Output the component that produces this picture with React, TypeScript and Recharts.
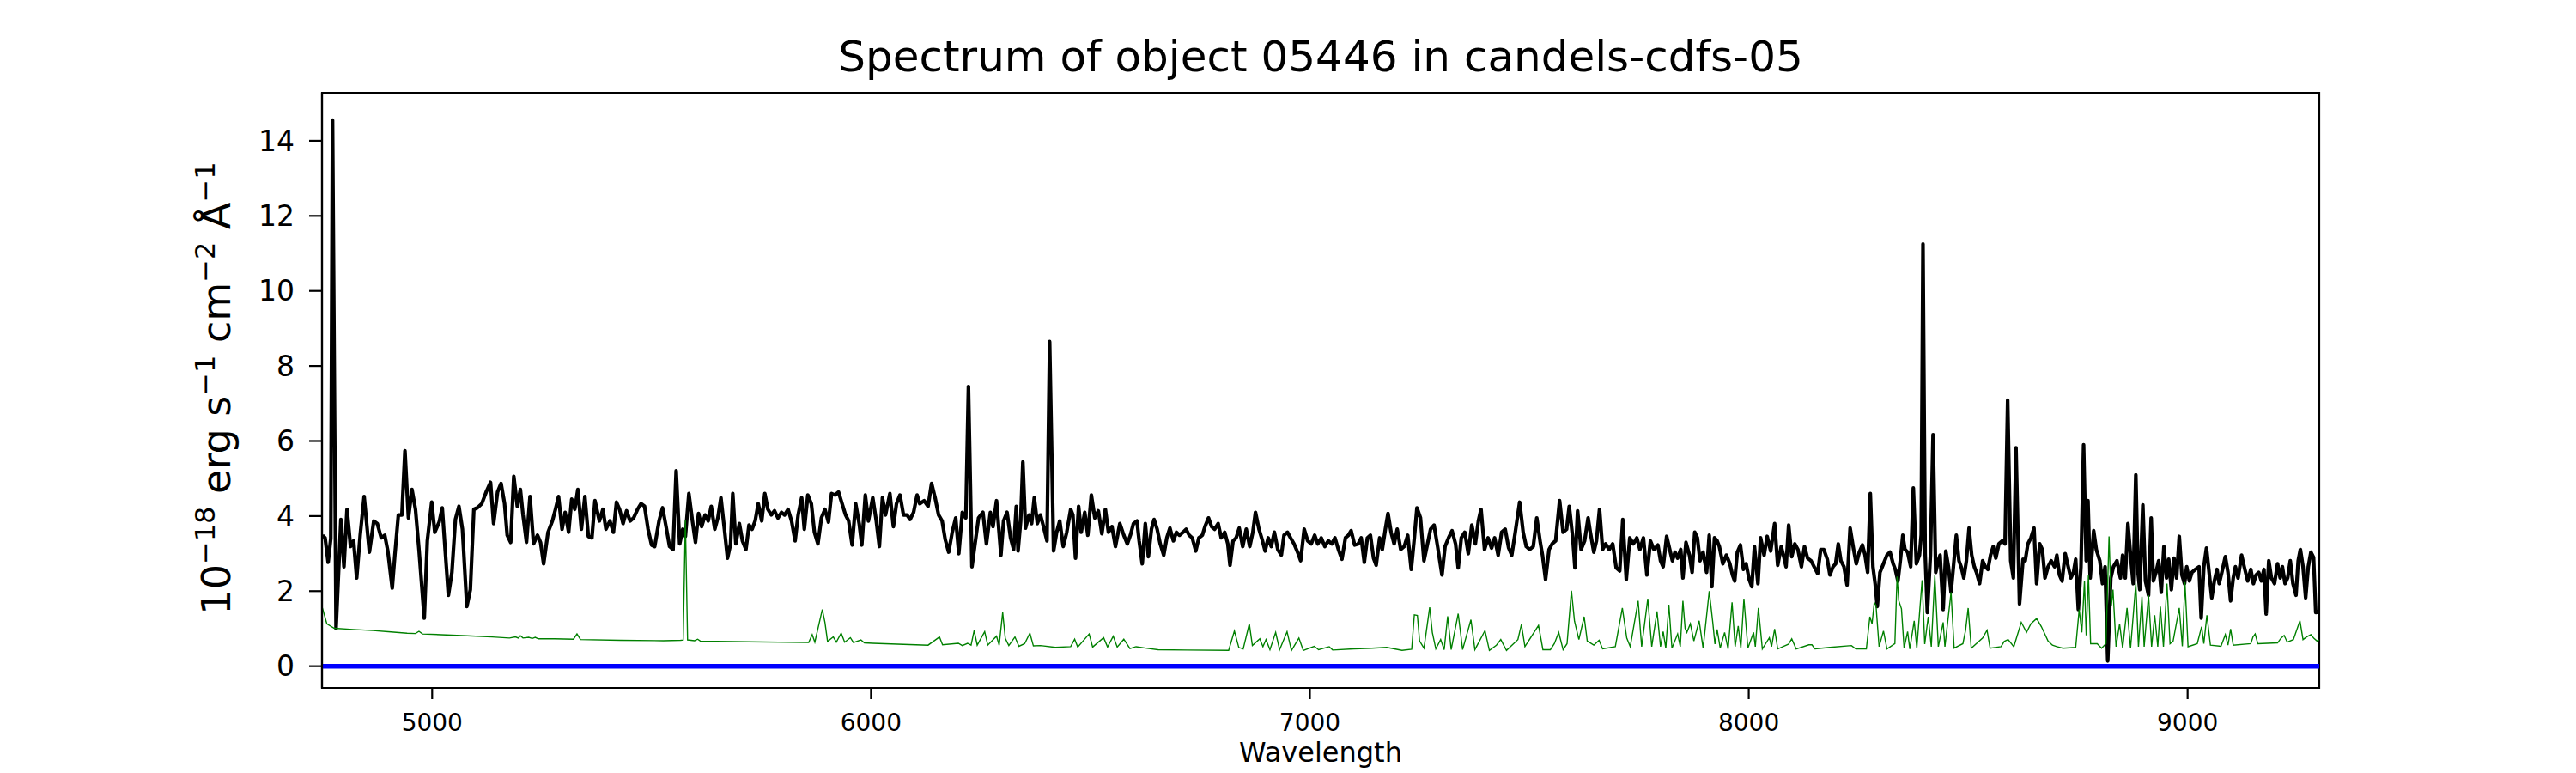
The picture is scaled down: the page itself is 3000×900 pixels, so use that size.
import { LineChart, Line, XAxis, YAxis, ReferenceLine, ReferenceArea } from 'recharts';

const FONT = '"DejaVu Sans", "Liberation Sans", sans-serif';

const title = 'Spectrum of object 05446 in candels-cdfs-05';
const xTicks = [5000, 6000, 7000, 8000, 9000];
const yTicks = [0, 2, 4, 6, 8, 10, 12, 14];
const xDomain: [number, number] = [4749, 9300];
const yDomain: [number, number] = [-0.58, 15.28];
const zeroLevel = 0;

// object spectrum, [wavelength, flux]
const flux: [number, number][] = [
  [4750, 3.49], [4756, 3.42], [4763, 2.77], [4769, 3.4], [4773, 14.55], [4781, 1.0], [4792, 3.91], [4799, 2.65],
  [4806, 4.18], [4814, 3.19], [4821, 3.34], [4828, 2.35], [4836, 3.49], [4845, 4.52], [4857, 3.04], [4867, 3.87],
  [4875, 3.8], [4884, 3.42], [4892, 3.49], [4899, 3.07], [4909, 2.08], [4915, 2.96], [4923, 4.03], [4931, 4.03],
  [4938, 5.74], [4946, 3.95], [4954, 4.71], [4962, 4.18], [4970, 3.11], [4982, 1.28], [4989, 3.34], [4999, 4.37],
  [5006, 3.57], [5016, 3.84], [5023, 4.22], [5030, 3.04], [5037, 1.89], [5045, 2.5], [5053, 3.91], [5061, 4.26],
  [5069, 3.65], [5079, 1.59], [5087, 2.04], [5095, 4.18], [5103, 4.22], [5113, 4.33], [5123, 4.64], [5133, 4.9],
  [5140, 3.8], [5149, 4.64], [5157, 4.87], [5165, 4.33], [5171, 3.49], [5179, 3.3], [5186, 5.06], [5194, 4.26],
  [5201, 4.71], [5207, 4.03], [5215, 3.3], [5223, 4.52], [5231, 3.26], [5240, 3.49], [5247, 3.3], [5254, 2.73],
  [5264, 3.57], [5274, 3.87], [5281, 4.18], [5288, 4.52], [5296, 3.65], [5303, 4.1], [5311, 3.57], [5318, 4.45],
  [5325, 4.18], [5332, 4.71], [5340, 3.65], [5348, 4.52], [5356, 3.46], [5364, 3.42], [5371, 4.41], [5381, 3.87],
  [5389, 4.18], [5396, 3.65], [5405, 3.87], [5413, 3.57], [5420, 4.37], [5427, 4.18], [5435, 3.8], [5443, 4.14],
  [5451, 3.87], [5459, 3.95], [5468, 4.18], [5476, 4.33], [5484, 4.26], [5492, 3.65], [5500, 3.23], [5507, 3.19],
  [5517, 3.87], [5525, 4.22], [5533, 3.72], [5541, 3.19], [5549, 3.11], [5556, 5.21], [5564, 3.26], [5571, 3.65],
  [5577, 3.46], [5585, 4.6], [5593, 3.87], [5600, 3.3], [5607, 4.07], [5614, 3.72], [5622, 4.03], [5629, 3.87],
  [5636, 4.26], [5644, 3.65], [5651, 3.95], [5658, 4.49], [5666, 3.65], [5673, 2.88], [5680, 3.26], [5685, 4.6],
  [5692, 3.26], [5700, 3.8], [5707, 3.34], [5715, 3.11], [5722, 3.76], [5729, 3.65], [5736, 3.87], [5743, 4.33],
  [5751, 3.87], [5758, 4.6], [5765, 4.18], [5773, 4.03], [5780, 4.14], [5788, 3.95], [5796, 4.1], [5803, 4.03],
  [5811, 4.18], [5819, 3.87], [5827, 3.34], [5834, 4.03], [5842, 4.49], [5848, 3.65], [5856, 4.56], [5864, 4.33],
  [5871, 3.57], [5879, 3.26], [5887, 3.95], [5895, 4.18], [5903, 3.84], [5910, 4.6], [5918, 4.56], [5926, 4.64],
  [5934, 4.33], [5942, 4.03], [5949, 3.87], [5957, 3.23], [5965, 4.33], [5973, 3.8], [5979, 3.23], [5987, 4.56],
  [5994, 3.87], [6004, 4.49], [6012, 3.87], [6019, 3.19], [6026, 4.49], [6033, 4.03], [6043, 4.6], [6051, 3.72],
  [6058, 4.33], [6066, 4.56], [6074, 4.03], [6082, 4.03], [6089, 3.91], [6097, 4.1], [6105, 4.56], [6111, 4.33],
  [6121, 4.41], [6130, 4.26], [6138, 4.87], [6146, 4.49], [6154, 4.03], [6162, 3.87], [6169, 3.38], [6177, 3.04],
  [6185, 3.57], [6193, 3.95], [6200, 3.0], [6208, 4.1], [6216, 3.95], [6222, 7.45], [6230, 2.65], [6237, 3.26],
  [6245, 3.95], [6255, 4.1], [6263, 3.26], [6272, 4.1], [6278, 3.72], [6286, 4.41], [6296, 2.96], [6302, 3.87],
  [6310, 4.1], [6318, 3.42], [6325, 3.11], [6331, 4.26], [6335, 3.07], [6341, 3.87], [6346, 5.44], [6352, 3.68],
  [6360, 4.03], [6366, 3.8], [6372, 4.49], [6379, 3.8], [6386, 4.03], [6393, 3.72], [6401, 3.34], [6407, 8.65],
  [6416, 3.07], [6423, 3.57], [6430, 3.87], [6438, 3.19], [6446, 3.57], [6455, 4.18], [6460, 4.03], [6466, 2.88],
  [6473, 4.26], [6479, 3.57], [6487, 4.1], [6494, 3.49], [6502, 4.56], [6510, 3.95], [6518, 4.14], [6526, 3.53],
  [6534, 4.18], [6541, 3.57], [6549, 3.72], [6557, 3.19], [6567, 3.8], [6576, 3.49], [6584, 3.26], [6591, 3.49],
  [6598, 3.8], [6606, 3.87], [6611, 3.34], [6618, 2.73], [6625, 3.8], [6632, 2.92], [6639, 3.65], [6645, 3.91],
  [6652, 3.65], [6659, 3.26], [6667, 2.96], [6674, 3.42], [6681, 3.68], [6689, 3.34], [6696, 3.57], [6703, 3.49],
  [6711, 3.57], [6718, 3.65], [6725, 3.49], [6732, 3.42], [6740, 3.07], [6747, 3.42], [6755, 3.49], [6761, 3.72],
  [6769, 3.95], [6776, 3.72], [6783, 3.65], [6791, 3.8], [6798, 3.42], [6806, 3.57], [6813, 3.26], [6818, 2.69],
  [6825, 3.34], [6832, 3.42], [6839, 3.68], [6847, 3.19], [6855, 3.65], [6863, 3.19], [6870, 3.57], [6876, 4.1],
  [6884, 3.65], [6892, 3.34], [6898, 3.07], [6905, 3.42], [6912, 3.19], [6919, 3.57], [6927, 3.11], [6935, 2.96],
  [6941, 3.49], [6949, 3.57], [6956, 3.42], [6964, 3.26], [6972, 3.04], [6979, 2.81], [6987, 3.65], [6995, 3.34],
  [7003, 3.26], [7011, 3.49], [7018, 3.26], [7026, 3.42], [7034, 3.19], [7042, 3.34], [7050, 3.26], [7057, 3.42],
  [7065, 3.11], [7073, 2.85], [7081, 3.42], [7088, 3.49], [7094, 3.61], [7102, 3.23], [7110, 3.26], [7117, 3.42],
  [7124, 2.77], [7131, 3.42], [7138, 3.49], [7145, 2.88], [7151, 2.69], [7159, 3.42], [7165, 3.11], [7172, 3.65],
  [7178, 4.07], [7185, 3.57], [7192, 3.26], [7199, 3.65], [7207, 3.11], [7215, 3.19], [7223, 3.49], [7231, 2.58],
  [7238, 3.42], [7244, 4.22], [7252, 3.95], [7260, 2.81], [7268, 3.26], [7275, 3.65], [7283, 3.76], [7291, 3.19],
  [7301, 2.43], [7308, 3.19], [7316, 3.42], [7324, 3.61], [7332, 3.26], [7338, 2.62], [7345, 3.42], [7353, 3.57],
  [7361, 3.0], [7369, 3.76], [7377, 3.26], [7384, 3.87], [7390, 4.18], [7398, 3.11], [7406, 3.42], [7414, 3.15],
  [7421, 3.42], [7429, 2.96], [7437, 3.57], [7445, 3.65], [7453, 3.15], [7460, 2.96], [7468, 3.57], [7478, 4.37],
  [7486, 3.57], [7493, 3.19], [7501, 3.11], [7509, 3.19], [7517, 3.95], [7525, 3.3], [7530, 2.96], [7537, 2.31],
  [7545, 3.11], [7552, 3.26], [7560, 3.34], [7569, 4.41], [7577, 3.57], [7585, 3.65], [7591, 4.26], [7599, 3.42],
  [7604, 2.62], [7610, 4.14], [7618, 3.11], [7626, 3.34], [7634, 3.95], [7639, 3.57], [7647, 3.04], [7653, 3.34],
  [7660, 4.18], [7667, 3.11], [7674, 3.26], [7682, 3.11], [7690, 3.26], [7698, 2.62], [7706, 2.54], [7713, 3.91],
  [7721, 2.31], [7729, 3.42], [7737, 3.26], [7745, 3.42], [7752, 3.11], [7760, 3.42], [7768, 2.43], [7776, 3.34],
  [7784, 3.11], [7793, 3.23], [7799, 2.81], [7805, 2.65], [7813, 3.46], [7820, 3.11], [7826, 2.81], [7832, 3.04],
  [7838, 2.88], [7845, 3.11], [7850, 2.35], [7857, 3.3], [7865, 2.96], [7871, 2.5], [7877, 3.57], [7883, 3.42],
  [7889, 2.81], [7896, 3.04], [7904, 2.5], [7910, 3.49], [7916, 2.12], [7922, 3.42], [7928, 3.34], [7933, 3.19],
  [7941, 2.73], [7949, 2.96], [7957, 2.73], [7963, 2.43], [7968, 2.27], [7974, 3.04], [7981, 3.23], [7988, 2.58],
  [7994, 2.73], [8001, 2.31], [8007, 2.12], [8013, 3.19], [8021, 2.2], [8027, 3.42], [8035, 2.96], [8042, 3.46],
  [8050, 3.07], [8059, 3.8], [8066, 2.69], [8074, 3.19], [8079, 2.96], [8085, 2.65], [8091, 3.76], [8098, 2.92],
  [8105, 3.26], [8112, 3.11], [8120, 2.65], [8127, 3.19], [8134, 2.88], [8142, 2.81], [8149, 2.65], [8157, 2.47],
  [8164, 3.11], [8171, 3.11], [8179, 2.85], [8185, 2.43], [8192, 2.65], [8198, 2.73], [8204, 3.26], [8210, 2.81],
  [8217, 2.65], [8224, 2.16], [8231, 3.68], [8239, 3.11], [8245, 2.73], [8252, 3.04], [8259, 3.23], [8265, 2.96],
  [8271, 2.5], [8277, 4.6], [8283, 2.65], [8288, 2.2], [8293, 1.59], [8299, 2.5], [8307, 2.73], [8315, 2.96],
  [8322, 3.04], [8329, 2.73], [8334, 2.58], [8340, 2.27], [8346, 2.88], [8351, 3.49], [8356, 3.11], [8362, 3.04],
  [8369, 2.65], [8375, 4.75], [8382, 2.73], [8389, 2.96], [8393, 3.5], [8397, 11.25], [8402, 3.0], [8407, 1.43],
  [8414, 2.96], [8420, 6.17], [8426, 2.5], [8432, 2.81], [8436, 2.96], [8443, 1.51], [8449, 3.07], [8455, 2.65],
  [8461, 1.97], [8467, 2.73], [8473, 3.49], [8479, 2.81], [8484, 2.65], [8490, 2.35], [8496, 2.81], [8502, 3.68],
  [8508, 2.96], [8514, 2.65], [8519, 2.5], [8526, 2.2], [8533, 2.81], [8539, 2.65], [8545, 2.58], [8551, 2.96],
  [8557, 3.19], [8563, 2.88], [8570, 3.26], [8578, 3.34], [8584, 3.26], [8590, 7.09], [8597, 2.81], [8603, 2.35],
  [8609, 5.82], [8617, 1.66], [8625, 2.85], [8630, 2.81], [8636, 3.26], [8643, 3.42], [8650, 3.68], [8656, 2.2],
  [8663, 3.26], [8669, 3.11], [8675, 2.35], [8682, 2.65], [8689, 2.81], [8697, 2.65], [8702, 2.96], [8708, 2.43],
  [8714, 2.27], [8721, 3.0], [8728, 2.65], [8734, 2.35], [8740, 2.5], [8745, 2.85], [8751, 1.51], [8757, 2.65],
  [8763, 5.9], [8769, 2.81], [8773, 4.41], [8778, 2.35], [8786, 3.61], [8792, 3.11], [8800, 2.81], [8806, 2.2],
  [8812, 2.65], [8818, 0.14], [8825, 2.35], [8831, 2.65], [8839, 2.81], [8847, 2.35], [8852, 2.96], [8858, 2.35],
  [8864, 3.8], [8870, 2.96], [8876, 2.2], [8882, 5.1], [8887, 2.5], [8891, 2.04], [8898, 4.3], [8904, 2.27],
  [8911, 1.89], [8917, 3.95], [8922, 2.27], [8928, 2.5], [8934, 2.81], [8940, 1.97], [8946, 3.19], [8952, 2.35],
  [8957, 2.85], [8963, 2.04], [8969, 2.88], [8975, 2.35], [8981, 3.46], [8987, 2.43], [8993, 2.2], [8998, 2.65],
  [9004, 2.27], [9010, 2.5], [9018, 2.58], [9026, 2.65], [9031, 1.28], [9037, 2.65], [9043, 3.15], [9049, 2.5],
  [9055, 1.82], [9061, 2.27], [9067, 2.58], [9072, 2.2], [9078, 2.5], [9086, 2.92], [9092, 2.5], [9098, 1.74],
  [9104, 2.35], [9109, 2.65], [9115, 2.35], [9123, 2.96], [9129, 2.65], [9137, 2.27], [9144, 2.58], [9150, 2.2],
  [9156, 2.43], [9162, 2.5], [9168, 2.27], [9174, 2.58], [9179, 1.39], [9185, 2.81], [9191, 2.35], [9198, 2.2],
  [9205, 2.73], [9211, 2.35], [9216, 2.65], [9222, 2.2], [9228, 2.35], [9234, 2.81], [9240, 2.2], [9247, 1.89],
  [9252, 2.81], [9257, 3.11], [9263, 2.65], [9269, 1.82], [9275, 2.65], [9281, 3.04], [9287, 2.9], [9292, 1.43],
  [9300, 1.45],
];

// sky / noise spectrum, [wavelength, flux]
const sky: [number, number][] = [
  [4750, 1.55], [4760, 1.13], [4777, 1.01], [4820, 0.98], [4865, 0.95], [4900, 0.92], [4943, 0.88], [4962, 0.87],
  [4970, 0.93], [4978, 0.86], [5021, 0.84], [5080, 0.81], [5137, 0.78], [5176, 0.75], [5190, 0.78], [5196, 0.75],
  [5201, 0.81], [5207, 0.75], [5220, 0.77], [5228, 0.74], [5235, 0.77], [5242, 0.73], [5279, 0.73], [5322, 0.72],
  [5330, 0.86], [5338, 0.71], [5429, 0.69], [5527, 0.68], [5566, 0.69], [5572, 0.7], [5577, 3.9], [5582, 0.7],
  [5598, 0.68], [5605, 0.72], [5611, 0.67], [5721, 0.65], [5858, 0.63], [5866, 0.84], [5872, 0.64], [5889, 1.51],
  [5895, 1.17], [5901, 0.66], [5914, 0.78], [5921, 0.64], [5932, 0.88], [5940, 0.64], [5953, 0.76], [5960, 0.63],
  [5977, 0.7], [5985, 0.62], [6004, 0.61], [6130, 0.56], [6156, 0.78], [6163, 0.57], [6199, 0.61], [6208, 0.55],
  [6220, 0.61], [6228, 0.56], [6235, 0.95], [6242, 0.56], [6259, 0.92], [6266, 0.56], [6286, 0.8], [6292, 0.56],
  [6300, 1.43], [6306, 0.74], [6314, 0.55], [6328, 0.78], [6337, 0.53], [6350, 0.6], [6362, 0.88], [6370, 0.54],
  [6386, 0.55], [6420, 0.5], [6455, 0.52], [6464, 0.72], [6471, 0.51], [6497, 0.86], [6505, 0.51], [6530, 0.76],
  [6539, 0.51], [6552, 0.8], [6561, 0.51], [6576, 0.72], [6590, 0.47], [6604, 0.52], [6633, 0.47], [6654, 0.44],
  [6720, 0.43], [6815, 0.42], [6828, 0.94], [6838, 0.5], [6848, 0.46], [6862, 1.13], [6869, 0.55], [6886, 0.73],
  [6893, 0.52], [6900, 0.71], [6909, 0.44], [6922, 0.9], [6931, 0.44], [6948, 0.92], [6958, 0.42], [6975, 0.75],
  [6985, 0.42], [7010, 0.53], [7020, 0.44], [7044, 0.52], [7052, 0.43], [7100, 0.46], [7141, 0.48], [7175, 0.5],
  [7210, 0.42], [7232, 0.45], [7238, 1.37], [7245, 1.35], [7250, 0.67], [7260, 0.48], [7273, 1.57], [7279, 0.9],
  [7287, 0.46], [7298, 0.71], [7306, 0.44], [7314, 1.33], [7322, 0.44], [7338, 1.4], [7348, 0.44], [7367, 1.24],
  [7376, 0.44], [7399, 0.95], [7409, 0.42], [7425, 0.56], [7435, 0.71], [7448, 0.42], [7474, 0.71], [7482, 1.11],
  [7490, 0.52], [7521, 1.09], [7531, 0.44], [7548, 0.44], [7557, 0.6], [7567, 0.9], [7577, 0.44], [7586, 0.6],
  [7596, 2.01], [7603, 1.2], [7613, 0.71], [7625, 1.32], [7632, 0.67], [7647, 0.56], [7659, 0.69], [7667, 0.46],
  [7696, 0.52], [7712, 1.55], [7722, 0.75], [7730, 0.52], [7748, 1.74], [7756, 0.52], [7770, 1.8], [7779, 0.52],
  [7791, 1.46], [7799, 0.52], [7805, 0.92], [7811, 0.48], [7818, 1.64], [7825, 0.48], [7838, 0.86], [7844, 0.52],
  [7850, 1.74], [7855, 1.01], [7859, 0.9], [7867, 1.13], [7875, 0.67], [7887, 1.21], [7896, 0.48], [7910, 2.0],
  [7918, 1.17], [7923, 0.59], [7928, 0.98], [7935, 0.48], [7945, 0.9], [7953, 0.46], [7962, 1.7], [7969, 0.52],
  [7976, 1.07], [7982, 0.48], [7989, 1.8], [7998, 0.48], [8011, 0.9], [8015, 0.52], [8022, 1.55], [8031, 0.46],
  [8047, 0.76], [8052, 0.52], [8059, 0.99], [8066, 0.46], [8091, 0.59], [8098, 0.73], [8108, 0.46], [8137, 0.57],
  [8144, 0.57], [8151, 0.46], [8185, 0.5], [8234, 0.55], [8244, 0.46], [8268, 0.46], [8276, 1.32], [8281, 1.13],
  [8286, 1.7], [8290, 1.62], [8297, 0.52], [8307, 0.94], [8315, 0.46], [8333, 0.6], [8338, 2.39], [8342, 1.74],
  [8348, 1.53], [8354, 0.48], [8362, 0.92], [8367, 0.46], [8377, 1.21], [8383, 0.48], [8395, 2.29], [8401, 0.59],
  [8409, 1.32], [8416, 0.52], [8424, 2.42], [8432, 0.52], [8443, 1.17], [8447, 0.52], [8461, 1.97], [8468, 0.48],
  [8488, 0.6], [8494, 0.95], [8500, 1.55], [8507, 0.48], [8533, 0.75], [8543, 0.96], [8550, 0.48], [8575, 0.52],
  [8582, 0.66], [8591, 0.71], [8604, 0.52], [8621, 1.17], [8633, 0.9], [8643, 1.13], [8656, 1.27], [8667, 1.05],
  [8682, 0.67], [8692, 0.56], [8702, 0.52], [8716, 0.48], [8745, 0.5], [8753, 1.51], [8759, 0.9], [8765, 2.27],
  [8769, 0.82], [8774, 2.42], [8779, 0.6], [8794, 0.6], [8804, 0.48], [8814, 0.6], [8821, 3.46], [8826, 1.6],
  [8830, 2.04], [8837, 0.52], [8845, 1.13], [8852, 0.48], [8862, 1.55], [8870, 0.48], [8882, 2.2], [8888, 0.52],
  [8896, 1.85], [8901, 0.52], [8911, 1.89], [8918, 0.52], [8925, 1.36], [8932, 0.52], [8938, 1.59], [8945, 0.52],
  [8953, 2.2], [8960, 0.6], [8967, 0.67], [8981, 1.55], [8988, 0.53], [8994, 2.24], [9001, 0.52], [9022, 0.6],
  [9032, 1.05], [9037, 0.6], [9044, 1.36], [9052, 0.56], [9076, 0.53], [9086, 0.84], [9092, 0.56], [9098, 0.99],
  [9104, 0.56], [9144, 0.6], [9149, 0.78], [9154, 0.86], [9160, 0.6], [9205, 0.62], [9213, 0.75], [9220, 0.82],
  [9227, 0.64], [9241, 0.71], [9256, 1.21], [9263, 0.71], [9271, 0.78], [9281, 0.84], [9288, 0.74], [9295, 0.67],
  [9300, 0.7],
];

const fluxPoints = flux.map(([w, f]) => ({ w, f }));
const skyPoints = sky.map(([w, f]) => ({ w, f }));

const axisStroke = { stroke: '#000', strokeWidth: 2.2 };

function YLabel() {
  // rotated unit label with superscripts
  return (
    <text
      x={268}
      y={452}
      transform="rotate(-90 268 452)"
      textAnchor="middle"
      fontSize={46}
      fontFamily={FONT}
      fill="#000"
      style={{ whiteSpace: 'pre' }}
    >
      10
      <tspan dy={-18} fontSize={32}>{'\u221218'}</tspan>
      <tspan dy={18}>{' erg s'}</tspan>
      <tspan dy={-18} fontSize={32}>{'\u22121'}</tspan>
      <tspan dy={18}>{' cm'}</tspan>
      <tspan dy={-18} fontSize={32}>{'\u22122'}</tspan>
      <tspan dy={18}>{' \u00C5'}</tspan>
      <tspan dy={-18} fontSize={32}>{'\u22121'}</tspan>
    </text>
  );
}

function XLabel() {
  return (
    <text x={1538} y={887} textAnchor="middle" fontSize={32} fontFamily={FONT} fill="#000">
      Wavelength
    </text>
  );
}

export default function App() {
  return (
    <div style={{ position: 'absolute', left: 0, top: 0, width: 3000, height: 900, background: '#fff' }}>
      <div
        style={{
          position: 'absolute',
          left: 1538,
          top: 41,
          transform: 'translateX(-50%)',
          fontFamily: FONT,
          fontSize: 50,
          lineHeight: '50px',
          whiteSpace: 'nowrap',
          color: '#000',
        }}
      >
        {title}
      </div>
      <LineChart width={3000} height={900} margin={{ top: 108, right: 299, bottom: 0, left: 0 }}>
        <XAxis
          dataKey="w"
          type="number"
          domain={xDomain}
          ticks={xTicks}
          allowDataOverflow
          height={99}
          tickSize={13}
          tickMargin={17}
          axisLine={axisStroke}
          tickLine={axisStroke}
          tick={{ fontSize: 28, fill: '#000', fontFamily: FONT }}
          label={<XLabel />}
        />
        <YAxis
          type="number"
          domain={yDomain}
          ticks={yTicks}
          allowDataOverflow
          width={375}
          tickSize={15}
          tickMargin={17}
          axisLine={axisStroke}
          tickLine={axisStroke}
          tick={{ fontSize: 33, fill: '#000', fontFamily: FONT }}
          label={<YLabel />}
        />
        <ReferenceArea
          x1={xDomain[0]}
          x2={xDomain[1]}
          y1={yDomain[0]}
          y2={yDomain[1]}
          fill="none"
          stroke="#000"
          strokeWidth={2.2}
        />
        <ReferenceLine y={zeroLevel} stroke="#0000ff" strokeWidth={5.5} />
        <Line
          data={fluxPoints}
          dataKey="f"
          type="linear"
          stroke="#000"
          strokeWidth={4.2}
          strokeLinejoin="round"
          dot={false}
          activeDot={false}
          isAnimationActive={false}
        />
        <Line
          data={skyPoints}
          dataKey="f"
          type="linear"
          stroke="#008000"
          strokeWidth={1.4}
          dot={false}
          activeDot={false}
          isAnimationActive={false}
        />
      </LineChart>
    </div>
  );
}
